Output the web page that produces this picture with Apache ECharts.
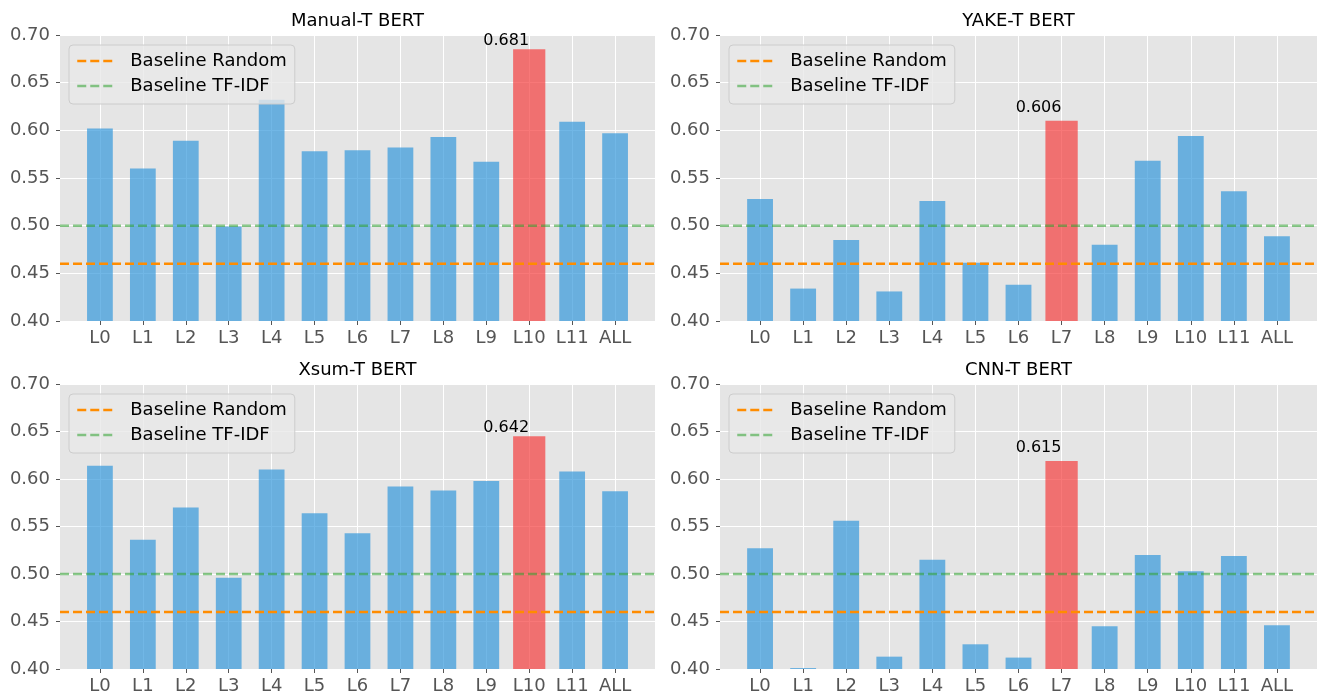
<!DOCTYPE html>
<html>
<head>
<meta charset="utf-8">
<title>BERT layer scores</title>
<script src="https://cdn.jsdelivr.net/npm/echarts@6/dist/echarts.min.js"></script>
<style>
  html, body { margin: 0; padding: 0; background: #fff; }
  #chart { width: 1317px; height: 698px; }
</style>
</head>
<body>
<div id="chart"></div>
<script>
const layers = ['L0', 'L1', 'L2', 'L3', 'L4', 'L5', 'L6', 'L7', 'L8', 'L9', 'L10', 'L11', 'ALL'];
const panelTitles = ['Manual-T BERT', 'YAKE-T BERT', 'Xsum-T BERT', 'CNN-T BERT'];

const manualScores = [0.602, 0.560, 0.589, 0.499, 0.632, 0.578, 0.579, 0.582, 0.593, 0.567, 0.685, 0.609, 0.597];
const yakeScores = [0.528, 0.434, 0.485, 0.431, 0.526, 0.461, 0.438, 0.610, 0.480, 0.568, 0.594, 0.536, 0.489];
const xsumScores = [0.614, 0.536, 0.570, 0.496, 0.610, 0.564, 0.543, 0.592, 0.588, 0.598, 0.645, 0.608, 0.587];
const cnnScores = [0.527, 0.401, 0.556, 0.413, 0.515, 0.426, 0.412, 0.619, 0.445, 0.520, 0.503, 0.519, 0.446];

const bestLayer = [10, 7, 10, 7];
const bestLabels = ['0.681', '0.606', '0.642', '0.615'];

const baselineRandom = 0.46;
const baselineTfidf = 0.50;

const yMin = 0.40;
const yMax = 0.70;
const yStep = 0.05;

const allScores = [manualScores, yakeScores, xsumScores, cnnScores];

// plot boxes (pixels) for the four panels
const boxes = [
  {left: 60, top: 35, width: 595, height: 286},
  {left: 720, top: 35, width: 597, height: 286},
  {left: 60, top: 384, width: 595, height: 285},
  {left: 720, top: 384, width: 597, height: 285}
];
// gap between the best bar and its annotation
const labelGap = [0, 5, 0, 5];

const font = 'DejaVu Sans';
const grids = [], xAxes = [], yAxes = [], series = [], titles = [], legends = [];

boxes.forEach(function (b, p) {
  // matplotlib xlim is -0.93 .. 12.93, so one category step is width / 13.86
  const step = b.width / 13.86;
  const g0 = grids.length;
  grids.push({left: b.left, top: b.top, width: b.width, height: b.height,
    show: true, backgroundColor: '#E5E5E5', borderWidth: 0});
  grids.push({left: b.left + 0.43 * step, top: b.top, width: 13 * step, height: b.height});

  const xBg = xAxes.length;
  xAxes.push({gridIndex: g0, type: 'value', min: 0, max: 1, show: false});
  xAxes.push({
    gridIndex: g0 + 1, type: 'category', data: layers,
    axisLine: {show: false},
    axisTick: {show: true, alignWithLabel: true, length: 4, lineStyle: {color: '#555'}},
    axisLabel: {color: '#555', fontSize: 18, margin: 8, interval: 0, fontFamily: font},
    splitLine: {show: true, alignWithLabel: true, lineStyle: {color: '#fff', width: 1}}
  });
  xAxes.push({gridIndex: g0 + 1, type: 'category', data: layers, show: false});

  const yBg = yAxes.length;
  yAxes.push({
    gridIndex: g0, type: 'value', min: yMin, max: yMax, interval: yStep,
    axisLine: {show: false},
    axisTick: {show: true, length: 4, lineStyle: {color: '#555'}},
    axisLabel: {color: '#555', fontSize: 18, margin: 10, fontFamily: font,
      formatter: function (v) { return v.toFixed(2); }},
    splitLine: {show: true, lineStyle: {color: '#fff', width: 1}}
  });
  yAxes.push({gridIndex: g0 + 1, type: 'value', min: yMin, max: yMax, show: false});

  const scores = allScores[p];
  const best = bestLayer[p];

  series.push({
    type: 'bar', xAxisIndex: xBg + 1, yAxisIndex: yBg + 1, z: 2,
    barWidth: 0.6 * step,
    data: scores.map(function (v, i) { return i === best ? null : v; }),
    itemStyle: {color: 'rgba(52,152,219,0.7)'}
  });
  series.push({
    type: 'bar', xAxisIndex: xBg + 2, yAxisIndex: yBg + 1, z: 2,
    barWidth: 0.75 * step,
    data: scores.map(function (v, i) { return i === best ? v : null; }),
    itemStyle: {color: 'rgba(245,62,62,0.7)'},
    label: {show: true, position: 'top', distance: labelGap[p], offset: [-23, 0],
      color: '#000', fontSize: 16, fontFamily: font,
      formatter: function () { return bestLabels[p]; }}
  });
  series.push({
    name: 'Baseline Random', type: 'line', xAxisIndex: xBg, yAxisIndex: yBg, z: 5,
    symbol: 'none', silent: true,
    data: [[0, baselineRandom], [1, baselineRandom]],
    lineStyle: {color: '#FF8C00', width: 2.5, type: [9, 4]},
    itemStyle: {color: '#FF8C00'}
  });
  series.push({
    name: 'Baseline TF-IDF', type: 'line', xAxisIndex: xBg, yAxisIndex: yBg, z: 5,
    symbol: 'none', silent: true,
    data: [[0, baselineTfidf], [1, baselineTfidf]],
    lineStyle: {color: 'rgba(44,160,44,0.55)', width: 2.5, type: [9, 4]},
    itemStyle: {color: 'rgba(44,160,44,0.55)'}
  });

  titles.push({
    text: panelTitles[p], left: b.left + b.width / 2, top: b.top - 23,
    textAlign: 'center', padding: 0,
    textStyle: {fontSize: 18, fontWeight: 'normal', color: '#000', fontFamily: font}
  });
  legends.push({
    left: b.left + 9, top: b.top + 10, orient: 'vertical',
    data: ['Baseline Random', 'Baseline TF-IDF'],
    selectedMode: false,
    itemWidth: 36, itemHeight: 14, itemGap: 5,
    padding: [6, 8, 8, 7],
    backgroundColor: 'rgba(232,232,232,0.8)',
    borderColor: '#cccccc', borderWidth: 1, borderRadius: 4,
    itemStyle: {opacity: 0},
    lineStyle: {width: 2.5},
    textStyle: {fontSize: 18, color: '#000', lineHeight: 20, fontFamily: font,
      padding: [0, 0, 0, 12]}
  });
});

const chart = echarts.init(document.getElementById('chart'));
chart.setOption({
  animation: false,
  textStyle: {fontFamily: font},
  title: titles,
  legend: legends,
  grid: grids,
  xAxis: xAxes,
  yAxis: yAxes,
  series: series
});
</script>
</body>
</html>
